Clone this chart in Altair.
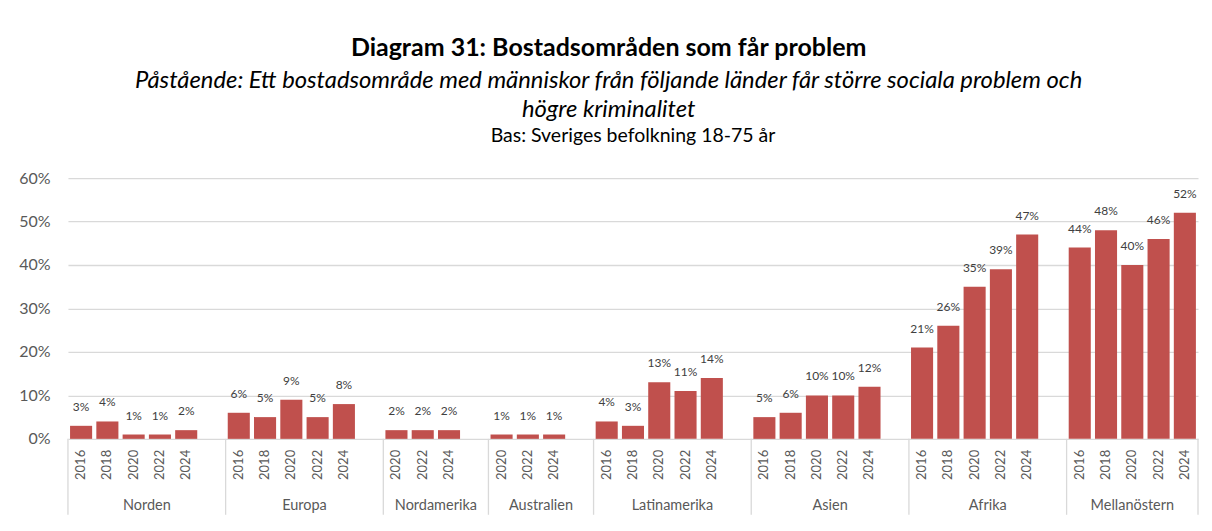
import altair as alt
import pandas as pd

groups = ["Norden", "Europa", "Nordamerika", "Australien", "Latinamerika", "Asien", "Afrika", "Mellanöstern"]
years = [
    ["2016", "2018", "2020", "2022", "2024"],
    ["2016", "2018", "2020", "2022", "2024"],
    ["2020", "2022", "2024"],
    ["2020", "2022", "2024"],
    ["2016", "2018", "2020", "2022", "2024"],
    ["2016", "2018", "2020", "2022", "2024"],
    ["2016", "2018", "2020", "2022", "2024"],
    ["2016", "2018", "2020", "2022", "2024"],
]
values = [
    [3, 4, 1, 1, 2],
    [6, 5, 9, 5, 8],
    [2, 2, 2],
    [1, 1, 1],
    [4, 3, 13, 11, 14],
    [5, 6, 10, 10, 12],
    [21, 26, 35, 39, 47],
    [44, 48, 40, 46, 52],
]

FONT = "Lato"
RED = "#C0504D"
GRID = "#d9d9d9"

# Build tables (slot order follows the category order, one blank slot between groups)
rows, seps, labels = [], [], []
slot = 0
seps.append({"pos": -0.5})
for gi, (g, ys, vs) in enumerate(zip(groups, years, values)):
    start = slot - 0.5
    for y, v in zip(ys, vs):
        rows.append({"group": g, "year": y, "value": v, "slot": slot})
        slot += 1
    if gi < len(groups) - 1:
        slot += 1  # blank category
    end = slot - 0.5
    seps.append({"pos": end})
    labels.append({"group": g, "center": (start + end) / 2})
n_slots = slot

df = pd.DataFrame(rows)
sep_df = pd.DataFrame(seps)
lab_df = pd.DataFrame(labels)

W, H = 1131, 261
xscale = alt.Scale(domain=[-0.5, n_slots - 0.5], nice=False, zero=False)
yscale = alt.Scale(domain=[0, 60], nice=False)

base = alt.Chart(df)

bars = base.transform_calculate(
    x0="datum.slot - 0.42", x1="datum.slot + 0.42"
).mark_bar(color=RED).encode(
    x=alt.X("x0:Q", scale=xscale, axis=None),
    x2="x1:Q",
    y=alt.Y("value:Q", scale=yscale, title=None,
            axis=alt.Axis(values=[0, 10, 20, 30, 40, 50, 60], labelExpr="datum.value + '%'",
                          domain=False, ticks=False, tickSize=0, labelPadding=18,
                          labelFontSize=16, labelColor="#595959", labelFont=FONT,
                          gridColor=GRID, gridWidth=1.3)),
    y2=alt.datum(0),
)

bar_text = base.transform_calculate(
    lbl="datum.value + '%'"
).mark_text(dy=-19, fontSize=12, color="#404040", font=FONT).encode(
    x=alt.X("slot:Q", scale=xscale, axis=None),
    y=alt.Y("value:Q", scale=yscale),
    text="lbl:N",
)

year_text = base.mark_text(angle=270, align="right", baseline="middle", fontSize=13,
                           color="#595959", font=FONT).encode(
    x=alt.X("slot:Q", scale=xscale, axis=None),
    y=alt.value(H + 11),
    text="year:N",
)

group_text = alt.Chart(lab_df).mark_text(fontSize=14.5, color="#595959", font=FONT,
                                         baseline="middle").encode(
    x=alt.X("center:Q", scale=xscale, axis=None),
    y=alt.value(H + 67),
    text="group:N",
)

sep_rules = alt.Chart(sep_df).mark_rule(color=GRID, strokeWidth=1.3).encode(
    x=alt.X("pos:Q", scale=xscale, axis=None),
    y=alt.value(H),
    y2=alt.value(H + 76),
)

layer = alt.layer(bars, bar_text, year_text, group_text, sep_rules).properties(
    width=W, height=H,
    title=alt.TitleParams("Bas: Sveriges befolkning 18-75 år", fontSize=19.5, fontWeight="normal",
                          font=FONT, color="#000000", offset=24, anchor="middle"),
)

chart = alt.vconcat(layer).properties(
    title=alt.TitleParams(
        "Diagram 31: Bostadsområden som får problem",
        subtitle=["Påstående: Ett bostadsområde med människor från följande länder får större sociala problem och",
                  "högre kriminalitet"],
        fontSize=25, fontWeight="bold", font=FONT, color="#000000",
        subtitleFont=FONT, subtitleFontSize=23.8, subtitleFontStyle="italic",
        subtitleColor="#000000", subtitleLineHeight=28.5, subtitlePadding=8,
        anchor="middle", offset=4,
    ),
    padding={"left": 10, "top": 28, "right": 5, "bottom": 2},
).configure_view(stroke=None).configure_concat(spacing=0)

chart.save("out.html", embed_options={"renderer": "svg", "actions": False})
